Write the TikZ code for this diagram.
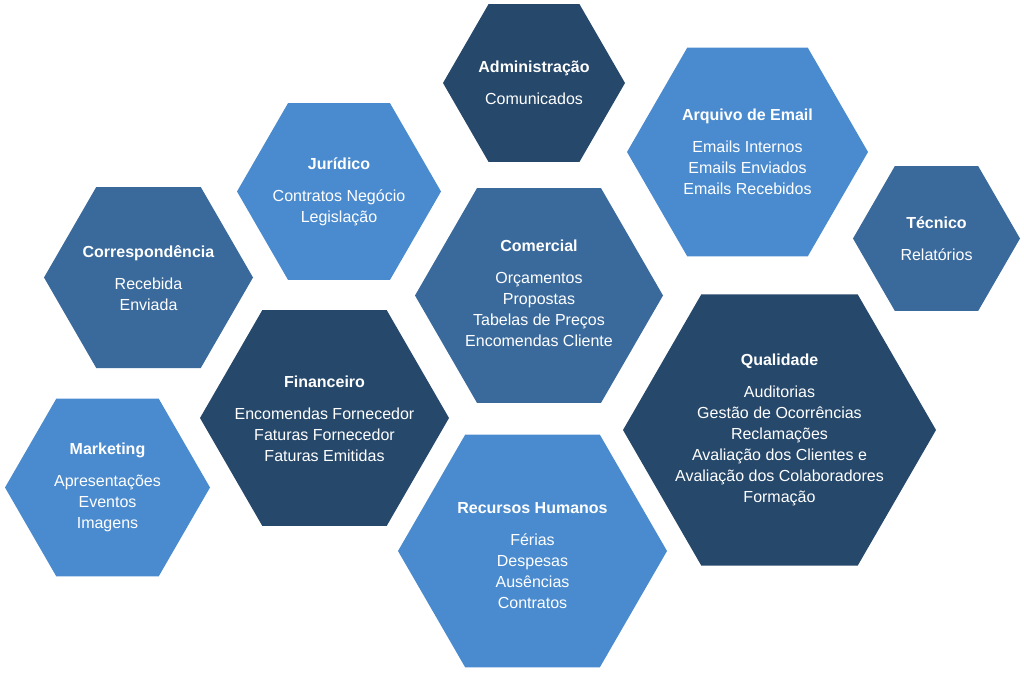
\documentclass[tikz,border=0pt]{standalone}
\usepackage{fontspec}
\setmainfont{Liberation Sans}
\usepackage{xcolor}
\usepackage{tikz}
\usetikzlibrary{shapes.geometric}

\definecolor{hexdark}{HTML}{26486B}
\definecolor{hexmid}{HTML}{3A6A9C}
\definecolor{hexlight}{HTML}{4A8BCF}

\tikzset{
    hexa/.style={regular polygon, regular polygon sides=6, inner sep=0pt,
        draw=none},
    dark/.style={hexa, fill=hexdark},
    mid/.style={hexa, fill=hexmid},
    light/.style={hexa, fill=hexlight},
    txt/.style={text=white, align=center, inner sep=0pt,
        font=\fontsize{16}{21}\selectfont}
}

\begin{document}
\begin{tikzpicture}[x=1pt, y=-1pt]
    % Page frame
    \useasboundingbox (0,0) rectangle (1024,672);

    % Top row
    \node[dark, minimum size=182pt] (adm) at (534,83) {};
    \node[txt] (adm-t) at (adm) {\textbf{Administração}\\[11pt]Comunicados};
    \node[light, minimum size=241pt] (arq) at (747.5,152) {};
    \node[txt] (arq-t) at (arq)
        {\textbf{Arquivo de Email}\\[11pt]Emails Internos\\Emails Enviados\\Emails Recebidos};
    \node[light, minimum size=204pt] (jur) at (339,191.5) {};
    \node[txt] (jur-t) at (jur) {\textbf{Jurídico}\\[11pt]Contratos Negócio\\Legislação};

    % Middle row
    \node[mid, minimum size=209pt] (cor) at (148.5,277.5) {};
    \node[txt] (cor-t) at ([yshift=-1pt]cor.center) {\textbf{Correspondência}\\[11pt]Recebida\\Enviada};
    \node[mid, minimum size=167pt] (tec) at (936.5,238.5) {};
    \node[txt] (tec-t) at (tec) {\textbf{Técnico}\\[11pt]Relatórios};
    \node[mid, minimum size=248pt] (com) at (539,295.5) {};
    \node[txt] (com-t) at ([yshift=2pt]com.center)
        {\textbf{Comercial}\\[11pt]Orçamentos\\Propostas\\Tabelas de Preços\\Encomendas Cliente};
    \node[dark, minimum size=249pt] (fin) at (324.5,418) {};
    \node[txt] (fin-t) at ([yshift=-1pt]fin.center)
        {\textbf{Financeiro}\\[11pt]Encomendas Fornecedor\\Faturas Fornecedor\\Faturas Emitidas};
    \node[dark, minimum size=313pt] (qua) at (779.5,430) {};
    \node[txt] (qua-t) at (qua)
        {\textbf{Qualidade}\\[11pt]Auditorias\\Gestão de Ocorrências\\Reclamações\\Avaliação dos Clientes e\\Avaliação dos Colaboradores\\Formação};

    % Bottom row
    \node[light, minimum size=205pt] (mkt) at (107.5,487.5) {};
    \node[txt] (mkt-t) at (mkt) {\textbf{Marketing}\\[11pt]Apresentações\\Eventos\\Imagens};
    \node[light, minimum size=269pt] (rh) at (532.5,551) {};
    \node[txt] (rh-t) at ([yshift=-5pt]rh.center)
        {\textbf{Recursos Humanos}\\[11pt]Férias\\Despesas\\Ausências\\Contratos};
\end{tikzpicture}
\end{document}
